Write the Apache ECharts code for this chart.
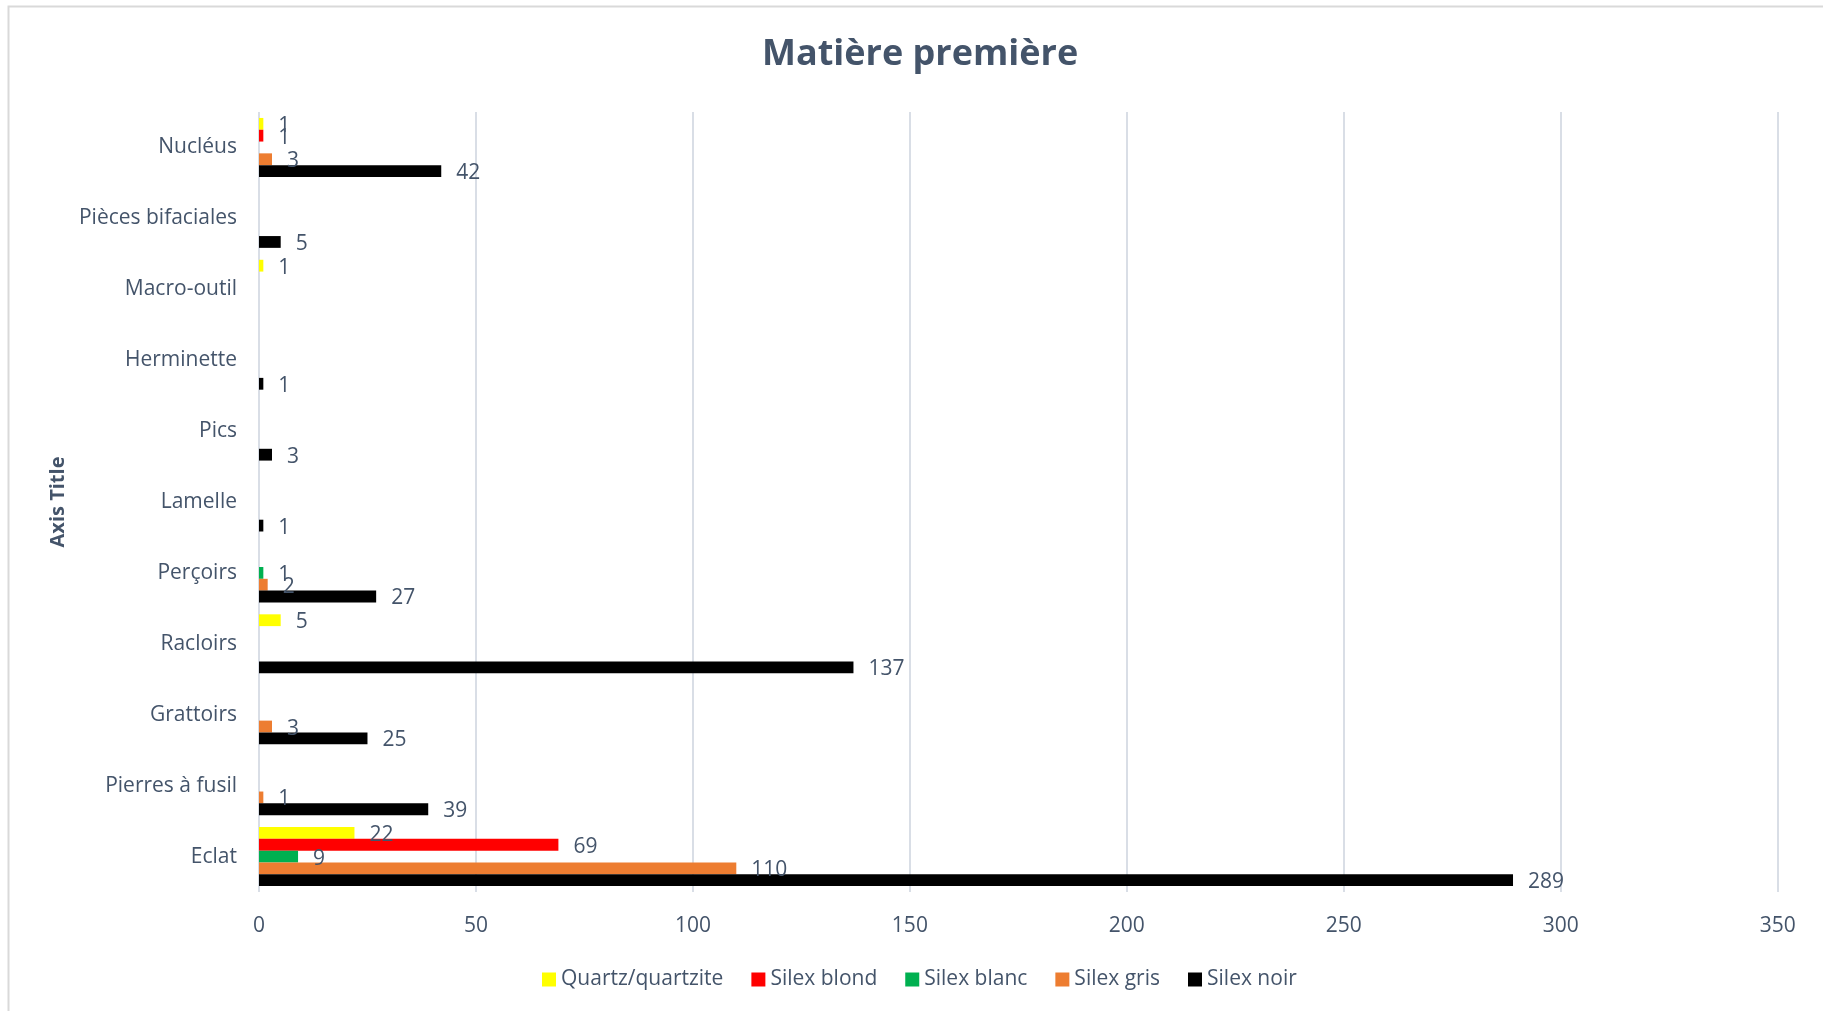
<!DOCTYPE html>
<html>
<head>
<meta charset="utf-8">
<script src="https://cdn.jsdelivr.net/npm/echarts@6/dist/echarts.min.js"></script>
<style>
html,body{margin:0;padding:0;background:#fff;}
#chart{width:1823px;height:1011px;}
</style>
</head>
<body>
<div id="chart"></div>
<script>
const categories = ['Eclat','Pierres à fusil','Grattoirs','Racloirs','Perçoirs','Lamelle','Pics','Herminette','Macro-outil','Pièces bifaciales','Nucléus'];
const seriesNames = ['Quartz/quartzite','Silex blond','Silex blanc','Silex gris','Silex noir'];
const quartz = [22, null, null, 5, null, null, null, null, 1, null, 1];
const silexBlond = [69, null, null, null, null, null, null, null, null, null, 1];
const silexBlanc = [9, null, null, null, 1, null, null, null, null, null, null];
const silexGris = [110, 1, 3, null, 2, null, null, null, null, null, 3];
const silexNoir = [289, 39, 25, 137, 27, 1, 3, 1, null, 5, 42];
const xTicks = [0, 50, 100, 150, 200, 250, 300, 350];

const colors = ['#FFFF00','#FF0000','#00B050','#ED7D31','#000000'];
const dataArrays = [quartz, silexBlond, silexBlanc, silexGris, silexNoir];
const txt = '#44546A';
const font = 'Open Sans';

const chart = echarts.init(document.getElementById('chart'));
const series = seriesNames.map((n, i) => ({
  name: n,
  type: 'bar',
  data: dataArrays[i],
  itemStyle: { color: colors[i] },
  barGap: '0%',
  barCategoryGap: '16.8%',
  label: {
    show: true, position: 'right', distance: 15, offset: [0, 2],
    color: txt, fontFamily: font, fontSize: 21
  }
}));

chart.setOption({
  animation: false,
  backgroundColor: '#fff',
  title: {
    text: 'Matière première', left: 757, top: 32,
    textStyle: { color: txt, fontFamily: font, fontWeight: 'bold', fontSize: 36 }
  },
  graphic: [{
    type: 'rect', shape: { x: 8.5, y: 6.5, width: 1830, height: 1020 },
    style: { fill: 'none', stroke: '#D9D9D9', lineWidth: 2 }, silent: true
  }],
  legend: {
    data: seriesNames, bottom: 16, left: 537,
    itemWidth: 14, itemHeight: 14, itemGap: 28,
    icon: 'rect',
    textStyle: { color: txt, fontFamily: font, fontSize: 21 }
  },
  grid: { left: 259, right: 45.3, top: 112, bottom: 119, containLabel: false },
  xAxis: {
    type: 'value', min: 0, max: 350, interval: 50,
    axisLine: { show: false }, axisTick: { show: false },
    splitLine: { show: true, lineStyle: { color: '#D9DEE6', width: 2 } },
    axisLabel: { color: txt, fontFamily: font, fontSize: 21, margin: 24,
      formatter: v => xTicks.includes(v) ? String(v) : '' }
  },
  yAxis: {
    type: 'category', data: categories,
    name: 'Axis Title', nameLocation: 'middle', nameGap: 177, nameRotate: 90,
    nameTextStyle: { color: txt, fontFamily: font, fontWeight: 'bold', fontSize: 20 },
    axisLine: { show: false }, axisTick: { show: false },
    axisLabel: { color: txt, fontFamily: font, fontSize: 21, margin: 22 },
    splitLine: { show: false }
  },
  series: series
});
</script>
</body>
</html>
